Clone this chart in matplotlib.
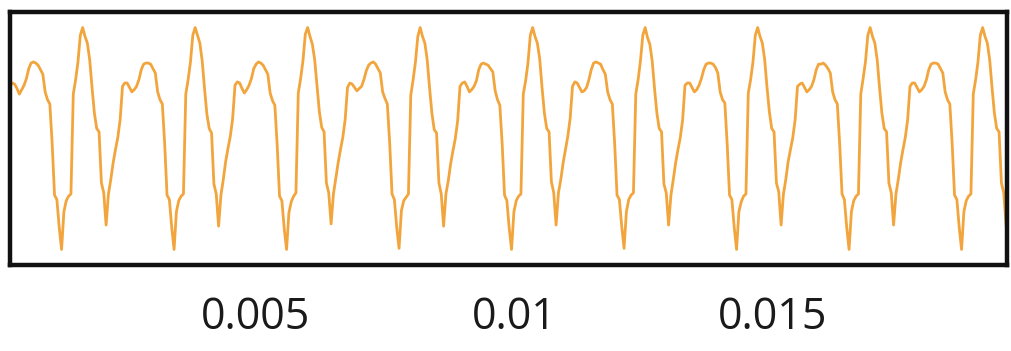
import matplotlib
matplotlib.use("Agg")
import matplotlib.pyplot as plt
import numpy as np

# Sample rate of the waveform (Hz) and time of the first sample (s)
sample_rate = 22050
start_time = 0.00025

# Amplitude samples (normalised, peak ~ 1)
amplitude = [
    # partial first period
    0.47, 0.50, 0.49, 0.45, 0.40, 0.44, 0.48, 0.54, 0.63, 0.68, 0.69, 0.68, 0.66, 0.62, 0.58,
    0.42, 0.35, 0.31, -0.05, -0.51, -0.55, -0.80, -1.00, -0.66, -0.56, -0.52, -0.50, 0.40, 0.53, 0.69, 0.93,
    # period 1
    1.00, 0.92, 0.86, 0.71, 0.46, 0.23, 0.09, 0.06, -0.40, -0.49, -0.78, -0.50, -0.37, -0.22, -0.10, 0.01,
    0.17, 0.47, 0.50, 0.50, 0.46, 0.42, 0.44, 0.47, 0.53, 0.62, 0.67, 0.68, 0.68, 0.67, 0.63, 0.59,
    0.42, 0.35, 0.31, -0.05, -0.51, -0.55, -0.80, -1.00, -0.66, -0.56, -0.52, -0.50, 0.40, 0.53, 0.69, 0.93,
    # period 2
    1.00, 0.93, 0.86, 0.70, 0.45, 0.22, 0.09, 0.05, -0.41, -0.50, -0.79, -0.51, -0.37, -0.21, -0.09, 0.02,
    0.18, 0.48, 0.51, 0.50, 0.45, 0.41, 0.44, 0.48, 0.54, 0.63, 0.67, 0.69, 0.68, 0.66, 0.62, 0.58,
    0.41, 0.34, 0.30, -0.06, -0.52, -0.56, -0.81, -1.00, -0.67, -0.57, -0.52, -0.49, 0.41, 0.54, 0.70, 0.94,
    # period 3
    1.00, 0.92, 0.85, 0.71, 0.47, 0.24, 0.10, 0.06, -0.40, -0.49, -0.77, -0.50, -0.36, -0.22, -0.10, 0.01,
    0.17, 0.46, 0.50, 0.49, 0.46, 0.43, 0.45, 0.47, 0.53, 0.61, 0.66, 0.68, 0.69, 0.67, 0.63, 0.59,
    0.42, 0.36, 0.31, -0.04, -0.50, -0.55, -0.80, -0.99, -0.65, -0.56, -0.53, -0.50, 0.39, 0.53, 0.69, 0.92,
    # period 4
    1.00, 0.92, 0.86, 0.71, 0.46, 0.23, 0.08, 0.05, -0.40, -0.50, -0.79, -0.50, -0.38, -0.23, -0.11, 0.00,
    0.16, 0.47, 0.50, 0.51, 0.47, 0.42, 0.44, 0.47, 0.52, 0.62, 0.67, 0.68, 0.67, 0.66, 0.63, 0.60,
    0.43, 0.35, 0.30, -0.05, -0.51, -0.56, -0.81, -1.00, -0.66, -0.56, -0.52, -0.50, 0.40, 0.52, 0.68, 0.93,
    # period 5
    1.00, 0.92, 0.86, 0.72, 0.46, 0.23, 0.09, 0.06, -0.39, -0.49, -0.78, -0.49, -0.37, -0.22, -0.10, 0.02,
    0.18, 0.47, 0.51, 0.50, 0.46, 0.42, 0.43, 0.46, 0.53, 0.62, 0.68, 0.69, 0.68, 0.67, 0.62, 0.58,
    0.42, 0.35, 0.31, -0.05, -0.51, -0.55, -0.79, -0.99, -0.66, -0.55, -0.51, -0.49, 0.40, 0.53, 0.70, 0.93,
    # period 6
    1.00, 0.91, 0.85, 0.70, 0.45, 0.23, 0.09, 0.06, -0.41, -0.49, -0.78, -0.51, -0.37, -0.22, -0.10, 0.01,
    0.17, 0.48, 0.50, 0.50, 0.46, 0.42, 0.44, 0.48, 0.54, 0.62, 0.67, 0.68, 0.68, 0.67, 0.64, 0.59,
    0.42, 0.35, 0.32, -0.05, -0.51, -0.55, -0.80, -1.00, -0.66, -0.57, -0.52, -0.50, 0.41, 0.53, 0.69, 0.93,
    # period 7
    1.00, 0.92, 0.86, 0.71, 0.46, 0.24, 0.09, 0.06, -0.40, -0.48, -0.78, -0.50, -0.37, -0.21, -0.10, 0.01,
    0.17, 0.47, 0.49, 0.50, 0.46, 0.42, 0.44, 0.47, 0.53, 0.62, 0.67, 0.67, 0.68, 0.66, 0.63, 0.59,
    0.42, 0.35, 0.31, -0.05, -0.50, -0.55, -0.80, -1.00, -0.66, -0.56, -0.52, -0.50, 0.40, 0.54, 0.69, 0.93,
    # period 8
    1.00, 0.92, 0.86, 0.71, 0.46, 0.23, 0.09, 0.06, -0.40, -0.49, -0.78, -0.50, -0.37, -0.22, -0.10, 0.01,
    0.17, 0.47, 0.50, 0.50, 0.46, 0.42, 0.44, 0.47, 0.53, 0.62, 0.67, 0.68, 0.68, 0.67, 0.63, 0.59,
    0.42, 0.35, 0.31, -0.05, -0.51, -0.55, -0.80, -1.00, -0.66, -0.56, -0.52, -0.50, 0.40, 0.53, 0.69, 0.93,
    # partial last period
    1.00, 0.92, 0.86, 0.71, 0.46, 0.23, 0.09, 0.06, -0.40, -0.49, -0.78,
]

# x tick values and labels
tick_values = [0.005, 0.01, 0.015]
tick_labels = ["0.005", "0.01", "0.015"]

time = start_time + np.arange(len(amplitude)) / sample_rate

plt.rcParams["font.family"] = ["Open Sans", "DejaVu Sans"]

fig = plt.figure(figsize=(10.11, 3.51), dpi=100)
ax = fig.add_axes([10 / 1011, 86 / 351, 997 / 1011, 253 / 351])
ax.plot(time, amplitude, color="#F2A53C", lw=2.0)
ax.set_xlim(start_time, start_time + 0.019292)
ax.set_ylim(-1.14, 1.14)
ax.set_xticks(tick_values)
ax.set_xticklabels(tick_labels)
ax.set_yticks([])
ax.tick_params(axis="x", length=0, pad=22, labelsize=31, labelcolor="#1a1a1a")
for s in ax.spines.values():
    s.set_linewidth(3.2)
    s.set_color("#111111")

fig.savefig("out.png", dpi=100)
